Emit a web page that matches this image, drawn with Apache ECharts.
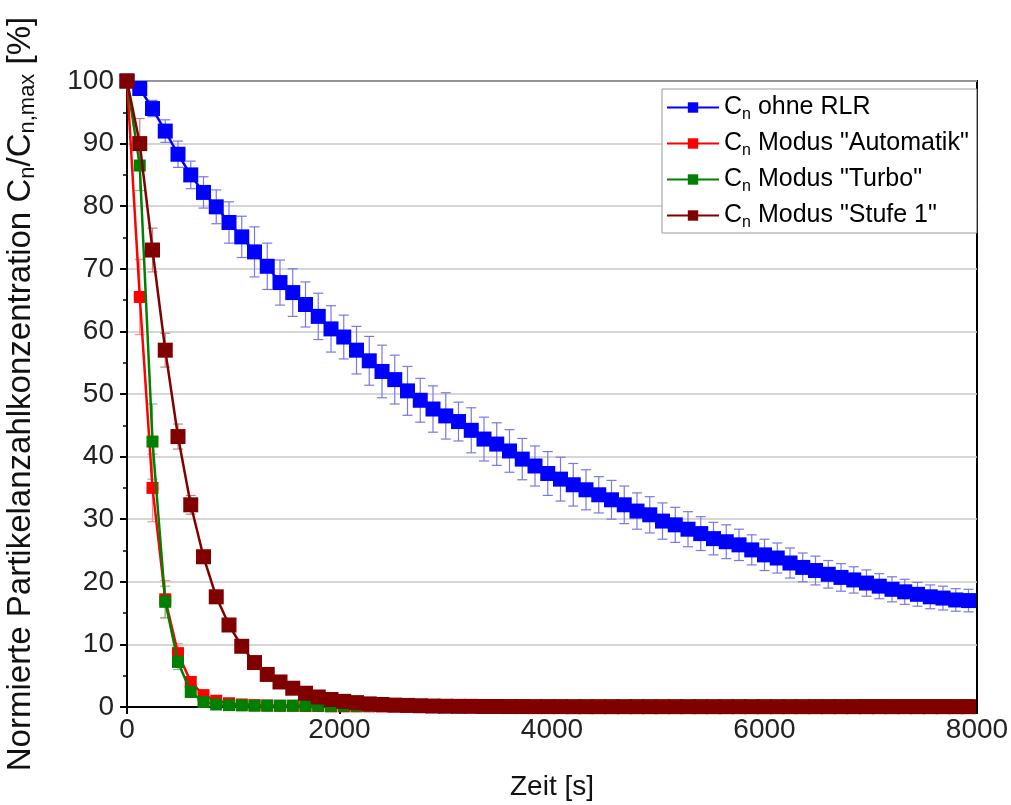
<!DOCTYPE html>
<html>
<head>
<meta charset="utf-8">
<script src="https://cdn.jsdelivr.net/npm/echarts@6/dist/echarts.min.js"></script>
<style>html,body{margin:0;padding:0;background:#fff;}#c{width:1011px;height:805px;}</style>
</head>
<body>
<div id="c"></div>
<script>
var times = [0,120,240,360,480,600,720,840,960,1080,1200,1320,1440,1560,1680,1800,1920,2040,2160,2280,2400,2520,2640,2760,2880,3000,3120,3240,3360,3480,3600,3720,3840,3960,4080,4200,4320,4440,4560,4680,4800,4920,5040,5160,5280,5400,5520,5640,5760,5880,6000,6120,6240,6360,6480,6600,6720,6840,6960,7080,7200,7320,7440,7560,7680,7800,7920];

var ohneRLR = [100,98.8,95.6,92.0,88.3,85.0,82.2,79.9,77.4,75.1,72.7,70.4,67.8,66.2,64.3,62.4,60.4,59.1,57.0,55.3,53.6,52.3,50.5,49.0,47.6,46.5,45.6,44.2,42.8,42.0,40.9,39.6,38.5,37.3,36.4,35.5,34.7,33.9,33.1,32.3,31.3,30.7,29.7,29.1,28.4,27.7,26.9,26.4,25.9,25.1,24.3,23.8,23.0,22.3,21.8,21.2,20.7,20.3,19.8,19.3,18.8,18.4,18.0,17.6,17.4,17.1,17.0];
var ohneRLRErr = [0,0.8,1.3,1.8,2.1,2.2,2.5,2.7,3.3,3.3,4.0,3.7,3.6,3.8,3.6,3.7,3.7,3.5,3.8,3.9,4.2,3.9,3.9,3.5,3.7,3.7,3.1,3.6,3.5,3.4,3.4,3.3,3.2,3.5,3.5,3.4,3.2,2.9,3.1,3.0,2.9,2.9,2.9,2.8,2.8,2.7,2.6,2.7,2.5,2.4,2.5,2.4,2.4,2.3,2.3,2.2,2.2,2.1,2.1,2.0,2.0,2.0,1.9,1.9,1.9,1.8,1.8];

var automatik = [100,65.5,35.0,17.2,8.6,4.0,1.9,1.0,0.6,0.4,0.3,0.25,0.2,0.2,0.15,0.15,0.1,0.1,0.1,0.1,0.08,0.08,0.07,0.07,0.06,0.06,0.06,0.05,0.05,0.05,0.05,0.05,0.05,0.05,0.05,0.05,0.05,0.05,0.05,0.05,0.05,0.05,0.05,0.05,0.05,0.05,0.05,0.05,0.05,0.05,0.05,0.05,0.05,0.05,0.05,0.05,0.05,0.05,0.05,0.05,0.05,0.05,0.05,0.05,0.05,0.05,0.05];
var automatikErr = [0,6.0,5.4,3.0,1.5,0.8,0.4];

var turbo = [100,86.5,42.4,16.8,7.2,2.4,0.8,0.4,0.3,0.25,0.2,0.2,0.2,0.2,0.2,0.2,0.2,0.2,0.2,0.2,0.2,0.2,0.2,0.2,0.2,0.2,0.2,0.2,0.2,0.2,0.2,0.2,0.2,0.2,0.2,0.2,0.2,0.2,0.2,0.2,0.2,0.2,0.2,0.2,0.2,0.2,0.2,0.2,0.2,0.2,0.2,0.2,0.2,0.2,0.25,0.25,0.25,0.25,0.3,0.3,0.3,0.3,0.3,0.3,0.3,0.3,0.3];
var turboErr = [0,4.0,6.0,2.5,1.2,0.5];

var stufe1 = [100,90.0,73.0,57.0,43.2,32.3,24.0,17.6,13.1,9.7,7.1,5.2,4.0,3.0,2.2,1.6,1.2,0.9,0.7,0.5,0.4,0.3,0.25,0.2,0.15,0.12,0.1,0.1,0.08,0.08,0.07,0.07,0.06,0.06,0.06,0.05,0.05,0.05,0.05,0.05,0.05,0.05,0.05,0.05,0.05,0.05,0.05,0.05,0.05,0.05,0.05,0.05,0.05,0.05,0.05,0.05,0.05,0.05,0.05,0.05,0.05,0.05,0.05,0.05,0.05,0.05,0.05];
var stufe1Err = [0,4.0,3.5,2.7,2.0,1.5,1.0,0.8];

var seriesNames = ['ohne RLR','Modus "Automatik"','Modus "Turbo"','Modus "Stufe 1"'];
var seriesColors = ['#0000ff','#ff0000','#008000','#800000'];
var errColors = ['#7878e8','#ff8c8c','#7cc07c','#c08080'];

var FONT = '"Liberation Sans", Arial, sans-serif';

function pts(vals){ var o=[]; for(var i=0;i<vals.length;i++){o.push([times[i],vals[i]]);} return o; }
function errPts(vals, errs){ var o=[]; for(var i=0;i<errs.length;i++){ if(errs[i]>0){o.push([times[i],vals[i]-errs[i],vals[i]+errs[i]]);} } return o; }

function errSeries(vals, errs, color){
  return {
    type:'custom', silent:true, z:1,
    data: errPts(vals, errs),
    encode:{x:0,y:[1,2]},
    renderItem:function(params, api){
      var x=api.value(0), lo=api.value(1), hi=api.value(2);
      var a=api.coord([x,lo]), b=api.coord([x,hi]);
      var w=5, st={stroke:color,lineWidth:1.2,fill:null};
      return {type:'group',children:[
        {type:'line',shape:{x1:a[0],y1:a[1],x2:b[0],y2:b[1]},style:st},
        {type:'line',shape:{x1:a[0]-w,y1:a[1],x2:a[0]+w,y2:a[1]},style:st},
        {type:'line',shape:{x1:b[0]-w,y1:b[1],x2:b[0]+w,y2:b[1]},style:st}
      ]};
    }
  };
}
function lineSeries(i, vals, size, z){
  return {
    name:seriesNames[i], type:'line', data:pts(vals), z:z,
    symbol:'rect', symbolSize:size, showAllSymbol:true,
    lineStyle:{color:seriesColors[i],width:2.5},
    itemStyle:{color:seriesColors[i]},
    emphasis:{disabled:true}, animation:false
  };
}

var chart = echarts.init(document.getElementById('c'), null, {renderer:'canvas'});
chart.setOption({
  animation:false,
  backgroundColor:'#fff',
  grid:{left:127,right:34,top:81,bottom:98,containLabel:false,outerBoundsMode:'none',
        show:true,borderColor:'#000',borderWidth:2,backgroundColor:'transparent'},
  legend:{
    orient:'vertical', left:662, top:89,
    data:seriesNames,
    backgroundColor:'#fff', borderColor:'#999', borderWidth:1,
    padding:[3,8,2,4], itemGap:5, itemWidth:52, itemHeight:13,
    formatter:function(n){ return '{m|C}{s|n}{m| '+n+'}'; },
    textStyle:{color:'#000',fontFamily:FONT,fontSize:25,
      rich:{m:{fontSize:25,fontFamily:FONT,color:'#000',lineHeight:28},
            s:{fontSize:16,fontFamily:FONT,color:'#000',lineHeight:28,padding:[15,0,0,0]}}}
  },
  xAxis:{
    type:'value', min:0, max:8000, interval:2000,
    name:'Zeit [s]', nameLocation:'middle', nameGap:66,
    nameTextStyle:{fontSize:28,fontFamily:FONT,color:'#111'},
    axisLine:{show:true,lineStyle:{color:'#000',width:2}},
    axisTick:{show:true,length:7,lineStyle:{color:'#000',width:2}},
    minorTick:{show:true,splitNumber:2,length:4,lineStyle:{color:'#000',width:1.5}},
    axisLabel:{fontSize:28,fontFamily:FONT,color:'#222',margin:9,formatter:function(v){return String(v);}},
    splitLine:{show:false}
  },
  yAxis:{
    type:'value', min:0, max:100, interval:10,
    name:'{m|Normierte Partikelanzahlkonzentration C}{s|n}{m|/C}{s|n,max}{m| [%]}',
    nameLocation:'middle', nameGap:88,
    nameTextStyle:{fontSize:33,fontFamily:FONT,color:'#111',
      rich:{m:{fontSize:33,fontFamily:FONT,color:'#111',lineHeight:36},
            s:{fontSize:22,fontFamily:FONT,color:'#111',lineHeight:36,padding:[14,0,0,0]}}},
    axisLine:{show:true,lineStyle:{color:'#000',width:2}},
    axisTick:{show:true,length:7,lineStyle:{color:'#000',width:2}},
    minorTick:{show:true,splitNumber:2,length:4,lineStyle:{color:'#000',width:1.5}},
    axisLabel:{fontSize:28,fontFamily:FONT,color:'#222',margin:13},
    splitLine:{show:true,lineStyle:{color:'#c8c8c8',width:1.5}}
  },
  series:[
    errSeries(ohneRLR, ohneRLRErr, errColors[0]),
    errSeries(automatik, automatikErr, errColors[1]),
    errSeries(turbo, turboErr, errColors[2]),
    errSeries(stufe1, stufe1Err, errColors[3]),
    lineSeries(0, ohneRLR, 15, 3),
    lineSeries(1, automatik, 12, 4),
    lineSeries(2, turbo, 12, 5),
    lineSeries(3, stufe1, 15, 6)
  ]
});
</script>
</body>
</html>
